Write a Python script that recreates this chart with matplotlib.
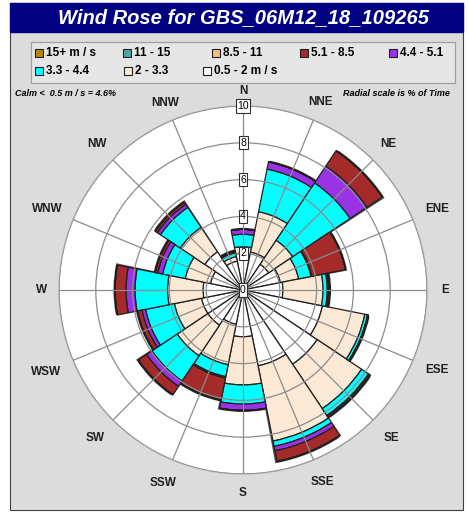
import matplotlib.pyplot as plt
import numpy as np
from matplotlib.patches import Rectangle

plt.rcParams['font.family'] = ['Liberation Sans', 'DejaVu Sans']

### Directions and speed classes
directions = ['N', 'NNE', 'NE', 'ENE', 'E', 'ESE', 'SE', 'SSE',
              'S', 'SSW', 'SW', 'WSW', 'W', 'WNW', 'NW', 'NNW']
classes = ['15+ m / s', '11 - 15', '8.5 - 11', '5.1 - 8.5', '4.4 - 5.1',
           '3.3 - 4.4', '2 - 3.3', '0.5 - 2 m / s']
colors = ['#B8860B', '#4FA3A5', '#F4BC82', '#A52A2A', '#9A32E6',
          '#00FFFF', '#FBE9D5', '#FFFFFF']

### % of time per direction for each speed class
spd_05_2 = [2.0, 2.1, 1.68, 2.07, 2.17, 4.4, 4.85, 4.2,
            2.54, 1.9, 2.3, 2.3, 2.17, 1.8, 2.5, 1.6]
spd_2_33 = [0.35, 2.24, 1.57, 1.01, 2.18, 2.35, 2.9, 4.17,
            2.62, 2.24, 2.0, 1.5, 1.93, 1.4, 1.6, 0.25]
spd_33_44 = [0.68, 2.36, 3.75, 0.69, 0.23, 0.15, 0.45, 0.29,
             1.04, 0.66, 1.65, 1.6, 1.77, 1.25, 1.3, 0.2]
spd_44_51 = [0.27, 0.4, 1.1, 0.05, 0.07, 0.02, 0.02, 0.25,
             0.35, 0.08, 0.35, 0.2, 0.49, 0.27, 0.2, 0.07]
spd_51_85 = [0.0, 0.0, 1.0, 1.86, 0.06, 0.03, 0.10, 0.59,
             0.0, 1.22, 0.55, 0.25, 0.6, 0.15, 0.15, 0.05]
spd_85_11 = [0.0] * 16
spd_11_15 = [0.0] * 16
spd_15 = [0.0] * 16

radial_ticks = [0, 2, 4, 6, 8, 10]
calm_text = 'Calm <  0.5 m / s = 4.6%'

### label distance from centre (in % units) for each direction name
label_r = [10.8, 11.05, 11.2, 11.45, 11.0, 11.4, 11.4, 11.3,
           11.05, 11.35, 11.4, 11.6, 10.95, 11.5, 11.25, 11.0]

W, H = 468, 513

### Figure and frame
fig = plt.figure(figsize=(W/100, H/100), dpi=100)
fig.patches.append(Rectangle((10/W, 0.005), 453/W, 0.99, transform=fig.transFigure,
                             facecolor='#DCDCDC', edgecolor='#404040', lw=0.8, zorder=-3))
fig.patches.append(Rectangle((10/W, 1-32/H), 453/W, 29/H, transform=fig.transFigure,
                             facecolor='#000080', edgecolor='#000080', zorder=-2))
fig.text(243/W, 1-18/H, 'Wind Rose for GBS_06M12_18_109265', color='white',
         fontsize=14.5, fontweight='bold', fontstyle='italic', ha='center', va='center')

### Polar axes
ax = fig.add_axes([59/W, 39/H, 368/W, 368/H], projection='polar')
ax.set_zorder(1)
ax.set_theta_zero_location('N')
ax.set_theta_direction(-1)
ax.set_facecolor('white')
ax.set_ylim(0, 10)

theta = np.arange(16) * 2 * np.pi / 16
width = 2 * np.pi / 16
stack = [spd_05_2, spd_2_33, spd_33_44, spd_44_51, spd_51_85, spd_85_11, spd_11_15, spd_15]
stack_colors = colors[::-1]

### dark shadow behind each stack
total = np.sum(np.array(stack), axis=0)
ax.bar(theta + 0.012, total + 0.08, width=width, color='#4A4A4A', linewidth=0, zorder=1.5)

bottom = np.zeros(16)
for vals, col in zip(stack, stack_colors):
    vals = np.array(vals)
    ax.bar(theta, vals, width=width, bottom=bottom, color=col,
           edgecolor='#202020', linewidth=0.9, zorder=2)
    bottom = bottom + vals

### Grid over the bars
ax.set_axisbelow(False)
ax.set_xticks(theta)
ax.set_xticklabels([])
ax.set_yticks(radial_ticks[1:])
ax.set_yticklabels([])
ax.grid(True, color='#8C8C8C', lw=0.9, zorder=3)
ax.spines['polar'].set_color('#B0B0B0')
ax.spines['polar'].set_linewidth(1.0)

### Radial labels in boxes along north
for r in radial_ticks:
    ax.text(0, r, str(r), ha='center', va='center', fontsize=7.5, zorder=5,
            bbox=dict(boxstyle='square,pad=0.15', facecolor='white', edgecolor='#303030', lw=0.8))

### Direction labels
for d, t, lr in zip(directions, theta, label_r):
    ax.text(t, lr, d, ha='center', va='center', fontsize=8.5,
            fontweight='bold', color='#202020', clip_on=False)

### Legend, drawn by hand to keep the columns of the original
fig.patches.append(Rectangle((31/W, 1-83/H), 424/W, 41/H, transform=fig.transFigure,
                             facecolor='#E6E6E6', edgecolor='#A0A0A0', lw=0.9, zorder=-1))
leg_x = [35, 123, 212, 300, 389, 35, 124, 203]
leg_y = [53, 53, 53, 53, 53, 71, 71, 71]
for lab, col, lx, ly in zip(classes, colors, leg_x, leg_y):
    fig.patches.append(Rectangle((lx/W, 1-(ly+4)/H), 8/W, 8/H, transform=fig.transFigure,
                                 facecolor=col, edgecolor='#202020', lw=0.8, zorder=2))
    fig.text((lx+11)/W, 1-ly/H, lab, fontsize=8.5, fontweight='bold', ha='left', va='center')

fig.text(15/W, 1-94/H, calm_text, fontsize=6.5, fontweight='bold', fontstyle='italic',
         ha='left', va='center')
fig.text(450/W, 1-94/H, 'Radial scale is % of Time', fontsize=6.5, fontweight='bold',
         fontstyle='italic', ha='right', va='center')

fig.savefig('out.png', dpi=100)
